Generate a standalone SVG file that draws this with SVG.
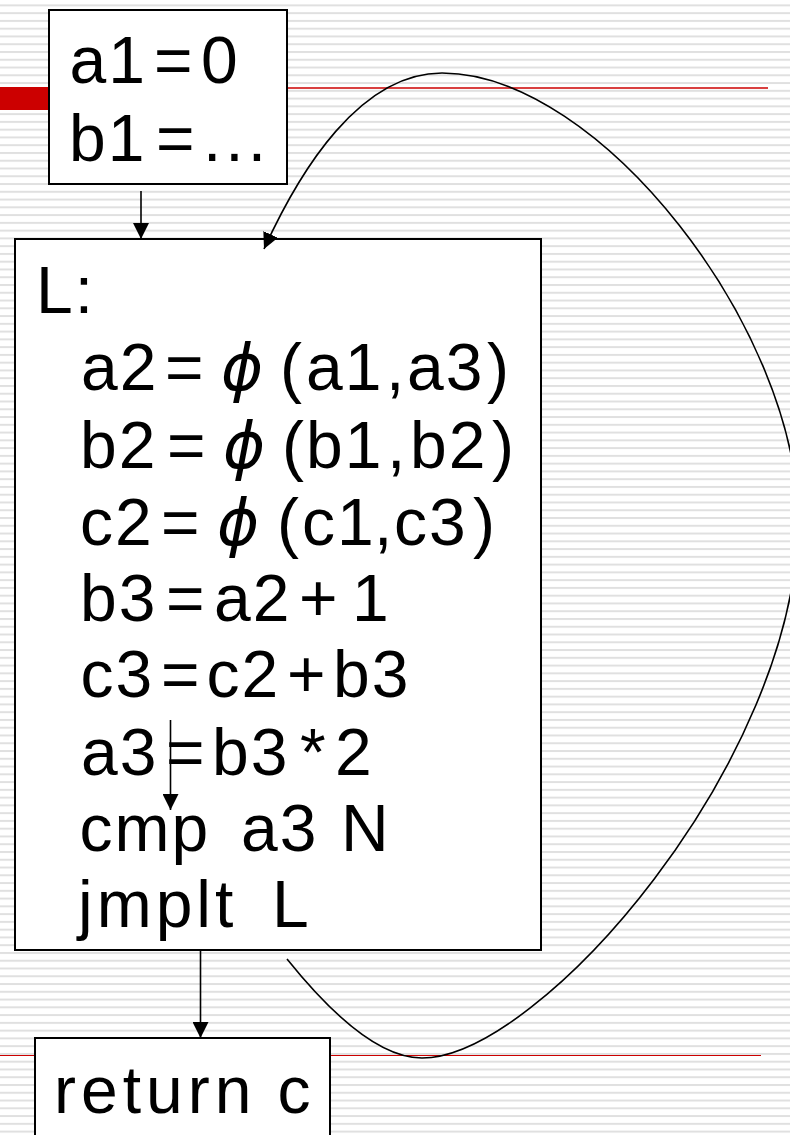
<svg xmlns="http://www.w3.org/2000/svg" width="790" height="1135" viewBox="0 0 790 1135">
  <style>
    .box { fill: #ffffff; stroke: #000000; stroke-width: 2; }
    .code { font-family: "Liberation Sans", Arial, sans-serif; font-size: 66px; fill: #000000; letter-spacing: 2px; }
    .phi { font-family: "DejaVu Sans", sans-serif; font-style: italic; font-size: 64px; letter-spacing: 0; }
    .edge { fill: none; stroke: #000000; stroke-width: 1.6; }
    .rule { stroke: #cc0000; }
  </style>
  <defs>
    <pattern id="stripes" patternUnits="userSpaceOnUse" x="0" y="4.4" width="790" height="7.767">
      <rect x="0" y="0" width="790" height="2" fill="#e0e0e0"/>
    </pattern>
    <marker id="head" viewBox="0 0 16 16" refX="16" refY="8" markerWidth="16" markerHeight="16" markerUnits="userSpaceOnUse" orient="auto">
      <path d="M0,0 L16,8 L0,16 Z" fill="#000000"/>
    </marker>
  </defs>

  <!-- slide background: ruled paper with red accents -->
  <g id="background">
    <rect x="0" y="0" width="790" height="1135" fill="#ffffff"/>
    <rect x="0" y="0" width="790" height="1135" fill="url(#stripes)"/>
    <rect x="0" y="87" width="50" height="23" fill="#cc0000"/>
    <line class="rule" x1="287" y1="88" x2="768" y2="88" stroke-width="1.5"/>
    <line class="rule" x1="0" y1="1055.5" x2="761" y2="1055.5" stroke-width="1.2"/>
  </g>

  <!-- entry block -->
  <g id="entry">
    <rect class="box" x="49" y="10" width="238" height="174"/>
    <text class="code" y="83"><tspan x="69.5">a1</tspan><tspan x="154">=</tspan><tspan x="201">0</tspan></text>
    <text class="code" y="161"><tspan x="69">b1</tspan><tspan x="156">=</tspan><tspan x="203" style="letter-spacing:4px">...</tspan></text>
  </g>

  <!-- loop body -->
  <g id="loop">
    <rect class="box" x="15" y="239" width="526" height="711"/>
    <text class="code" y="313"><tspan x="36">L:</tspan></text>
    <text class="code" y="390"><tspan x="81">a2</tspan><tspan x="165">=</tspan><tspan class="phi" x="221">ϕ</tspan><tspan x="280">(</tspan><tspan x="306">a1</tspan><tspan x="386">,</tspan><tspan x="407">a3</tspan><tspan x="487">)</tspan></text>
    <text class="code" y="468"><tspan x="80">b2</tspan><tspan x="167">=</tspan><tspan class="phi" x="223">ϕ</tspan><tspan x="282">(</tspan><tspan x="306">b1</tspan><tspan x="387">,</tspan><tspan x="410">b2</tspan><tspan x="492">)</tspan></text>
    <text class="code" y="545"><tspan x="80">c2</tspan><tspan x="161">=</tspan><tspan class="phi" x="217">ϕ</tspan><tspan x="277">(</tspan><tspan x="302">c1</tspan><tspan x="374">,</tspan><tspan x="394">c3</tspan><tspan x="473">)</tspan></text>
    <text class="code" y="621"><tspan x="80">b3</tspan><tspan x="166">=</tspan><tspan x="214">a2</tspan><tspan x="299">+</tspan><tspan x="352">1</tspan></text>
    <text class="code" y="697"><tspan x="80.5">c3</tspan><tspan x="161">=</tspan><tspan x="206.5">c2</tspan><tspan x="287">+</tspan><tspan x="333">b3</tspan></text>
    <text class="code" y="775"><tspan x="81">a3</tspan><tspan x="166">=</tspan><tspan x="212">b3</tspan><tspan x="300">*</tspan><tspan x="335">2</tspan></text>
    <text class="code" y="851"><tspan x="79.5">cmp</tspan><tspan x="241">a3</tspan><tspan x="341">N</tspan></text>
    <text class="code" y="927"><tspan x="78" style="letter-spacing:4px">jmplt</tspan><tspan x="272">L</tspan></text>
  </g>

  <!-- exit block -->
  <g id="exit">
    <rect class="box" x="35" y="1038" width="295" height="120"/>
    <text class="code" y="1112.5"><tspan x="54" style="letter-spacing:5px">return</tspan><tspan x="277.5">c</tspan></text>
  </g>

  <!-- control-flow edges -->
  <g id="edges">
    <line class="edge" x1="141" y1="191" x2="141" y2="239" marker-end="url(#head)"/>
    <line class="edge" x1="170.5" y1="720" x2="170.5" y2="810" marker-end="url(#head)"/>
    <line class="edge" x1="200.5" y1="950" x2="200.5" y2="1038" marker-end="url(#head)"/>
    <path class="edge" d="M287,959 C340,1025 385,1058 422,1058 C540,1058 798,760 798,520 C798,330 600,73 442,73 C360,73 300,170 264,249" marker-end="url(#head)"/>
  </g>
</svg>
